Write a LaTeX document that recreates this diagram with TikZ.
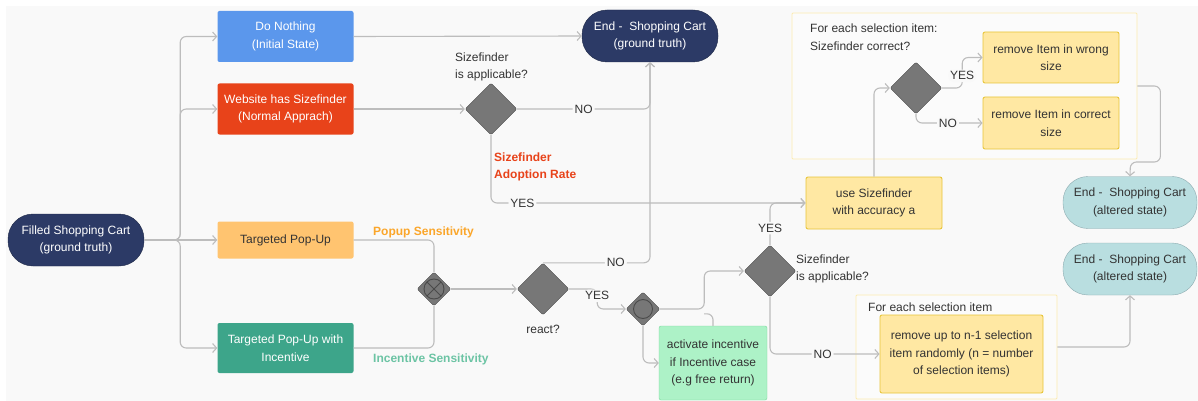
\documentclass[tikz,border=0pt]{standalone}
\usepackage{fontspec}
\setmainfont{Liberation Sans}
\usetikzlibrary{arrows.meta}
\usetikzlibrary{shapes.geometric}

\definecolor{bgcol}{HTML}{F9F9F9}
\definecolor{navy}{HTML}{2C3A66}
\definecolor{sfblue}{HTML}{5B97EC}
\definecolor{sfred}{HTML}{E8431A}
\definecolor{popor}{HTML}{FFC470}
\definecolor{incteal}{HTML}{3DA58A}
\definecolor{decgray}{HTML}{777777}
\definecolor{decline}{HTML}{4A4A4A}
\definecolor{yfill}{HTML}{FFE8A3}
\definecolor{yline}{HTML}{E8C53A}
\definecolor{frameline}{HTML}{FCEBB0}
\definecolor{gfill}{HTML}{ADF2C7}
\definecolor{gline}{HTML}{7BD99E}
\definecolor{altfill}{HTML}{B9DEE0}
\definecolor{altline}{HTML}{8DABB0}
\definecolor{conn}{HTML}{BDBDBD}
\definecolor{txt}{HTML}{333333}
\definecolor{popsens}{HTML}{FBA62A}
\definecolor{incsens}{HTML}{6CC4A4}

\tikzset{
	base/.style={font=\fontsize{12}{17.5}\selectfont, align=center, text=txt},
	box/.style={base, rectangle, rounded corners=2pt, minimum width=136pt, inner sep=2pt},
	pill/.style={base, rectangle, rounded corners=25pt, draw=navy!70!black, fill=navy, text=white, minimum width=136pt, minimum height=52pt},
	altpill/.style={pill, draw=altline, fill=altfill, text=txt, minimum width=134pt},
	ybox/.style={box, draw=yline, fill=yfill, line width=0.9pt},
	dec/.style={diamond, draw=decline, fill=decgray, rounded corners=2pt, minimum width=52pt, minimum height=52pt, inner sep=0pt},
	gate/.style={dec, minimum width=34pt, minimum height=34pt},
	frame/.style={rectangle, draw=frameline, fill=white!40!bgcol, line width=0.8pt, rounded corners=1pt},
	lbl/.style={base, fill=bgcol, inner sep=2pt},
	note/.style={base, align=left, anchor=west, inner sep=0pt},
	bnote/.style={note, font=\fontsize{12}{17.5}\bfseries},
	line/.style={draw=conn, line width=1.1pt, rounded corners=6pt},
	arr/.style={line, -{Straight Barb[length=4pt,width=9pt]}}
}

\begin{document}
\begin{tikzpicture}[x=1pt, y=-1pt]
	\useasboundingbox (0,0) rectangle (1198,401);
	\fill[bgcol] (6,6) rectangle (1198,401);

	\node[frame, minimum width=345pt, minimum height=146pt] (topframe) at (964.5,86) {};
	\node[frame, minimum width=201pt, minimum height=104pt] (botframe) at (956.5,347) {};

	\node[pill] (start) at (76,240) {Filled Shopping Cart\\(ground truth)};
	\node[box, fill=sfblue, text=white, minimum height=51pt] (donothing) at (285.5,36.5) {Do Nothing\\(Initial State)};
	\node[box, fill=sfred, text=white, minimum height=51pt] (website) at (285.5,109) {Website has Sizefinder\\(Normal Apprach)};
	\node[box, fill=popor, minimum height=37pt] (popup) at (285.5,240) {Targeted Pop-Up};
	\node[box, fill=incteal, text=white, minimum height=50pt] (popinc) at (285.5,348) {Targeted Pop-Up with\\Incentive};

	\node[pill] (endgt) at (650,36) {End -\ \ Shopping Cart\\(ground truth)};
	\node[dec] (sfapp) at (491,109) {};
	\node[note] (sfapplbl) at (455,67) {Sizefinder\\is applicable?};
	\node[bnote, text=sfred] (adoption) at (494,167) {Sizefinder\\Adoption Rate};

	\node[ybox, minimum height=52pt] (usesf) at (874,203) {use Sizefinder\\with accuracy a};
	\node[note] (correctlbl) at (810,37) {For each selection item:\\Sizefinder correct?};
	\node[dec] (sfcorrect) at (916,88) {};
	\node[ybox, minimum height=51pt] (wrong) at (1051,57.5) {remove Item in wrong\\size};
	\node[ybox, minimum height=52pt] (correct) at (1051,123) {remove Item in correct\\size};
	\node[altpill] (endalt) at (1130,202.5) {End -\ \ Shopping Cart\\(altered state)};
	\node[altpill] (endalttwo) at (1130,269) {End -\ \ Shopping Cart\\(altered state)};

	\node[gate] (xor) at (434,289) {};
	\draw[decline, line width=0.9pt] (xor.center) circle (10) (xor.center) ++(-7.07,-7.07) -- ++(14.14,14.14) (xor.center) ++(7.07,-7.07) -- ++(-14.14,14.14);
	\node[bnote, text=popsens] (popsenslbl) at (373,232) {Popup Sensitivity};
	\node[bnote, text=incsens] (incsenslbl) at (373,359) {Incentive Sensitivity};
	\node[dec] (react) at (543,289) {};
	\node[base] (reactlbl) at (543,329) {react?};
	\node[gate] (merge) at (643,309) {};
	\draw[decline, line width=0.9pt] (merge.center) circle (9.5);
	\node[box, draw=gline, fill=gfill, minimum width=108pt, minimum height=74pt] (act) at (713,363) {activate incentive\\if Incentive case\\(e.g free return)};
	\node[dec] (sfapptwo) at (770,271) {};
	\node[note] (sfapptwolbl) at (796,269) {Sizefinder\\is applicable?};
	\node[note] (randlbl) at (868,307) {For each selection item};
	\node[ybox, minimum width=163pt, minimum height=78pt] (randbox) at (961.5,354) {remove up to n-1 selection\\item randomly (n = number\\of selection items)};

	\draw[arr] (start.east) -- ++(36,0) |- (donothing.west);
	\draw[arr] (start.east) -- ++(36,0) |- (website.west);
	\draw[arr] (start.east) -- (popup.west);
	\draw[arr] (start.east) -- ++(36,0) |- (popinc.west);
	\draw[arr] (donothing.east) -- (endgt.west);
	\draw[arr] (website.east) -- (sfapp.west);
	\draw[arr] (sfapp.east) -| (endgt.south) node[lbl, pos=0.25] {NO};
	\draw[arr] (sfapp.south) |- (usesf.west) node[lbl, pos=0.55] {YES};
	\draw[arr] (usesf.north) |- (sfcorrect.west);
	\draw[arr] (sfcorrect.east) -- ++(20,0) |- (wrong.west) node[lbl, pos=0.2] {YES};
	\draw[arr] (sfcorrect.south) |- (correct.west) node[lbl, pos=0.74] {NO};
	\draw[arr] (topframe.east) -- ++(23,0) |- ++(-30,76) -- (endalt.north);
	\draw[arr] (botframe.east) -| (endalttwo.south);
	\draw[line] (popup.east) -| (xor.north);
	\draw[line] (popinc.east) -| (xor.south);
	\draw[arr] (xor.east) -- (react.west);
	\draw[arr] (react.north) -| (endgt.south) node[lbl, pos=0.34] {NO};
	\draw[arr] (react.east) -- ++(28,0) |- (merge.west) node[lbl, pos=0.17] {YES};
	\draw[arr] (merge.east) -- ++(44,0) |- (sfapptwo.west);
	\draw[line] (act.north) |- ++(-9,-12);
	\draw[arr] (merge.south) |- (act.west);
	\draw[arr] (sfapptwo.north) |- (usesf.west) node[lbl, pos=0.2] {YES};
	\draw[arr] (sfapptwo.south) |- (randbox.west) node[lbl, pos=0.74] {NO};
\end{tikzpicture}
\end{document}
